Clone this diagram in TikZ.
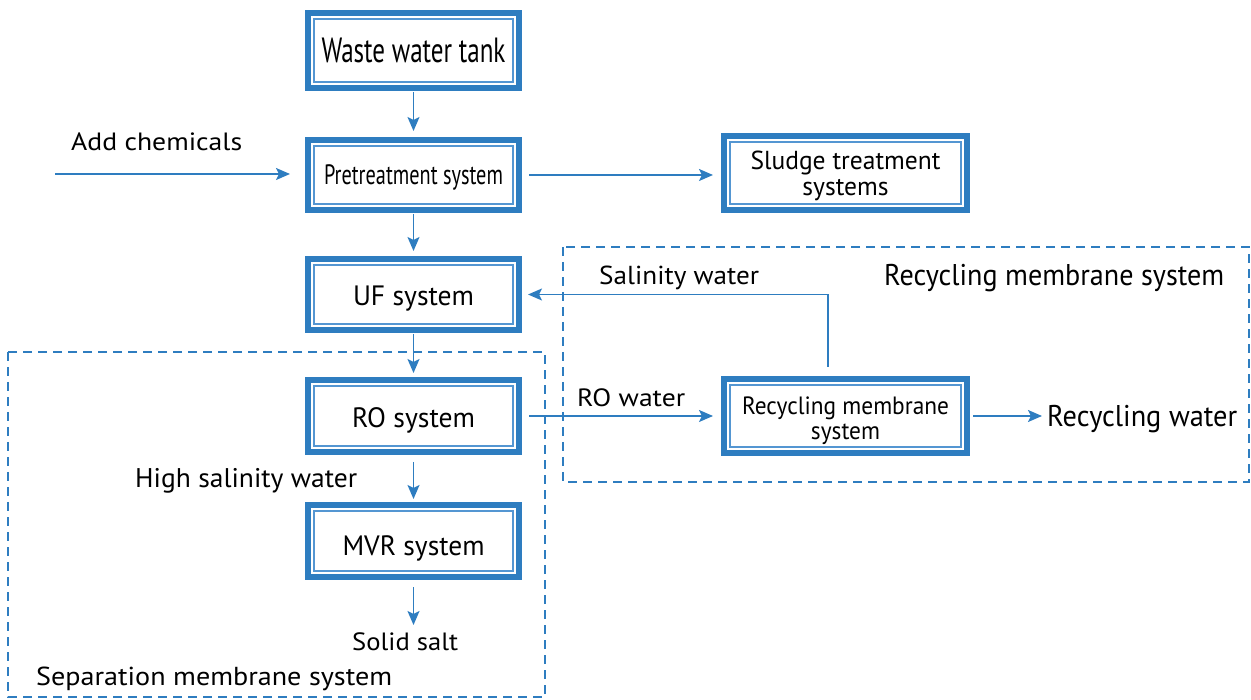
\documentclass[tikz,border=0pt]{standalone}
\usepackage{fontspec}
\setmainfont{PT Sans}
\usepackage{graphicx}
\usetikzlibrary{arrows.meta}
\definecolor{bl}{RGB}{46,125,192}
\definecolor{bli}{RGB}{84,150,210}
\newlength\fitw
\newcommand\fitt[3]{\fontsize{#1}{#1}\selectfont\settowidth\fitw{#3}\pgfmathsetmacro\fitsx{#2/\fitw}\scalebox{\fitsx}[1]{#3}}
\newcommand\twol[2]{\begin{tabular}{@{}c@{}}#1\\#2\end{tabular}}
\newcommand\dn[2]{\raisebox{-#1}[\height][\depth]{#2}}
\begin{document}
\begin{tikzpicture}[x=1pt,y=-1pt,
  sysbox/.style={draw=bl, line width=6pt, inner sep=0pt, fill=white, text=black},
  inline/.style={draw=bli, line width=1.8pt},
  arr/.style={draw=bl, line width=1.8pt, -{Stealth[length=14pt,width=12pt,inset=3pt]}},
  grp/.style={draw=bl, line width=2pt, dash pattern=on 9pt off 6pt},
  lab/.style={anchor=base west, inner sep=0pt, text=black}]
\useasboundingbox (0,0) rectangle (1251,700);

% group frames
\draw[grp] (563,247) rectangle (1249,482);
\draw[grp] (8,352) rectangle (545,697);

% boxes
\node[sysbox, minimum width=211pt, minimum height=75pt] (wwt) at (413.5,50.5) {\fitt{35}{184}{Waste water tank}};
\node[sysbox, minimum width=211pt, minimum height=70pt] (pre) at (413.5,175) {\dn{2pt}{\fitt{28}{179}{Pretreatment system}}};
\node[sysbox, minimum width=243pt, minimum height=74pt] (sl) at (845.5,173) {\dn{4pt}{\fitt{26}{190}{\twol{Sludge treatment}{systems}}}};
\node[sysbox, minimum width=211pt, minimum height=71pt] (uf) at (413.5,294.5) {\dn{4pt}{\fitt{28}{121}{UF system}}};
\node[sysbox, minimum width=211pt, minimum height=72pt] (ro) at (413.5,416) {\dn{4pt}{\fitt{28}{123}{RO system}}};
\node[sysbox, minimum width=211pt, minimum height=72pt] (mvr) at (413.5,541) {\dn{7pt}{\fitt{28}{142}{MVR system}}};
\node[sysbox, minimum width=243pt, minimum height=74pt] (rec) at (845.5,416) {\dn{6pt}{\fitt{25}{207}{\twol{Recycling membrane}{system}}}};

\foreach \n in {wwt,pre,sl,uf,ro,mvr,rec}
  \draw[inline] ([xshift=9.3pt,yshift=-9.3pt]\n.north west) rectangle ([xshift=-9.3pt,yshift=9.3pt]\n.south east);

% labels
\node[lab] (addl) at (71,151) {\fitt{25}{171}{Add chemicals}};
\node[lab] (salw) at (599,285) {\fitt{26}{160}{Salinity water}};
\node[lab] (recl) at (884,286) {\fitt{30}{340}{Recycling membrane system}};
\node[lab] (rw) at (1047,427) {\fitt{30}{190}{Recycling water}};
\node[lab] (row) at (577,407) {\fitt{25}{108}{RO water}};
\node[lab] (hsw) at (135,488) {\fitt{27}{222}{High salinity water}};
\node[lab] (salt) at (352,650) {\fitt{25}{106}{Solid salt}};
\node[lab] (sepl) at (36,685) {\fitt{26}{356}{Separation membrane system}};

% connectors
\coordinate (addc) at (55,174);
\draw[arr, shorten <=1pt, shorten >=6pt] (wwt) -- (pre);
\draw[arr, shorten >=15pt] (addc) -- (addc -| pre.west);
\draw[arr, shorten <=7pt, shorten >=8pt] (pre.east) -- (pre.east -| sl.west);
\draw[arr, shorten <=1pt, shorten >=5pt] (pre) -- (uf);
\draw[arr, shorten <=1pt, shorten >=4pt] (uf) -- (ro);
\draw[arr, shorten <=7pt, shorten >=8pt] (ro) -- (rec);
\draw[arr, shorten >=6pt] ([xshift=-17.5pt,yshift=9pt]rec.north) |- (uf.east);
\draw[arr, shorten <=3pt, shorten >=5pt] (rec.east) -- (rec.east -| rw.west);
\draw[arr, shorten <=7pt, shorten >=3pt] (ro) -- (mvr);
\draw[arr, shorten <=7pt, shorten >=7pt] (mvr.south) -- (mvr.south |- salt.north);
\end{tikzpicture}
\end{document}
